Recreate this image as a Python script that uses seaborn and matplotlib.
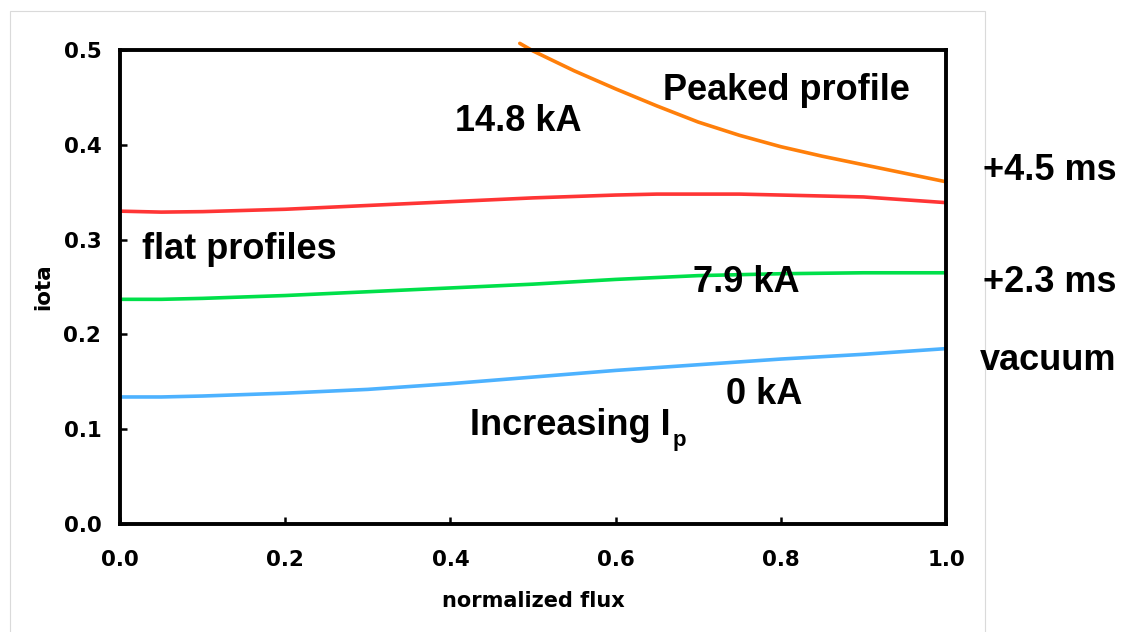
import matplotlib
matplotlib.use("Agg")
import matplotlib.pyplot as plt
import seaborn as sns
import pandas as pd
from matplotlib.patches import Rectangle

# ---- data ----
flux = [0.0, 0.05, 0.1, 0.2, 0.3, 0.4, 0.5, 0.6, 0.65, 0.7, 0.75, 0.8, 0.85, 0.9, 0.95, 1.0]
iota_vacuum = [0.134, 0.134, 0.135, 0.138, 0.142, 0.148, 0.155, 0.162, 0.165, 0.168, 0.171,
               0.174, 0.1765, 0.179, 0.182, 0.185]
iota_2p3ms = [0.237, 0.237, 0.238, 0.241, 0.245, 0.249, 0.253, 0.258, 0.260, 0.262, 0.263,
              0.264, 0.2645, 0.265, 0.265, 0.265]
iota_flat = [0.330, 0.329, 0.3295, 0.332, 0.336, 0.340, 0.344, 0.347, 0.348, 0.348, 0.348,
             0.347, 0.346, 0.345, 0.342, 0.339]
flux_peaked = [0.484, 0.5, 0.55, 0.6, 0.65, 0.7, 0.75, 0.8, 0.85, 0.9, 0.95, 1.0]
iota_peaked = [0.507, 0.499, 0.478, 0.459, 0.441, 0.424, 0.410, 0.398, 0.388, 0.379, 0.370, 0.361]

xticks = [0.0, 0.2, 0.4, 0.6, 0.8, 1.0]
xtick_labels = ["0.0", "0.2", "0.4", "0.6", "0.8", "1.0"]
yticks = [0.0, 0.1, 0.2, 0.3, 0.4, 0.5]
ytick_labels = ["0.0", "0.1", "0.2", "0.3", "0.4", "0.5"]

df_vac = pd.DataFrame({"flux": flux, "iota": iota_vacuum})
df_23 = pd.DataFrame({"flux": flux, "iota": iota_2p3ms})
df_flat = pd.DataFrame({"flux": flux, "iota": iota_flat})
df_peak = pd.DataFrame({"flux": flux_peaked, "iota": iota_peaked})

sns.set_theme(style="white")
plt.rcParams["font.family"] = ["DejaVu Sans"]

fig = plt.figure(figsize=(11.25, 6.32), dpi=100)
ax = fig.add_axes([120 / 1125, 1 - 524 / 632, (946 - 120) / 1125, (524 - 50) / 632])

lw = 2.6
sns.lineplot(data=df_vac, x="flux", y="iota", color="#4DB2FF", lw=lw, ax=ax)
sns.lineplot(data=df_23, x="flux", y="iota", color="#00E04A", lw=lw, ax=ax)
sns.lineplot(data=df_flat, x="flux", y="iota", color="#FF3535", lw=lw, ax=ax)
sns.lineplot(data=df_peak, x="flux", y="iota", color="#FF7F0A", lw=lw, ax=ax, clip_on=False)

ax.set_xlim(0, 1)
ax.set_ylim(0, 0.5)
ax.set_xticks(xticks, labels=xtick_labels, fontweight="bold", fontsize=15.4, family="DejaVu Sans")
ax.set_yticks(yticks, labels=ytick_labels, fontweight="bold", fontsize=15.4, family="DejaVu Sans")
ax.tick_params(axis="x", direction="in", length=5, width=1.8, bottom=True, top=False, pad=19, colors="black")
ax.tick_params(axis="y", direction="in", length=5, width=1.8, left=True, right=False, pad=13.5, colors="black")
for s in ax.spines.values():
    s.set_visible(True)
    s.set_color("black")
    s.set_linewidth(2.8)

ax.set_xlabel("normalized flux", fontweight="bold", fontsize=15, family="DejaVu Sans", color="black")
ax.xaxis.label.set_va("baseline")
ax.xaxis.set_label_coords(0.5, (524 - 607) / 474)
ax.set_ylabel("iota", fontweight="bold", fontsize=15.5, family="DejaVu Sans", color="black")
ax.yaxis.label.set_va("center")
ax.yaxis.set_label_coords((43 - 120) / 826, 0.5)

tf = dict(fontsize=26, fontweight="bold", family="Liberation Sans", color="black",
          ha="left", va="baseline", clip_on=False)
ax.text(0.657, 0.447, "Peaked profile", **tf)
ax.text(0.4056, 0.415, "14.8 kA", **tf)
ax.text(0.0266, 0.2795, "flat profiles", **tf)
ax.text(0.6937, 0.245, "7.9 kA", **tf)
ax.text(0.7337, 0.1266, "0 kA", **tf)
t_inc = ax.text(0.4237, 0.0939, "Increasing I", **tf)
ax.annotate("p", xy=(1, 0), xycoords=t_inc, xytext=(1.5, -2.5), textcoords="offset points",
            fontsize=16, fontweight="bold", family="Liberation Sans", color="black",
            ha="left", va="baseline")
ax.text(1.045, 0.363, "+4.5 ms", **tf)
ax.text(1.045, 0.245, "+2.3 ms", **tf)
ax.text(1.0415, 0.1624, "vacuum", **tf)

fig.add_artist(Rectangle((10 / 1125, -0.05), (985 - 10) / 1125, 1.05 - 11 / 632,
                         transform=fig.transFigure, fill=False, edgecolor="#dadada", lw=0.8,
                         zorder=-5))

fig.savefig("out.png", dpi=100, facecolor="white")
